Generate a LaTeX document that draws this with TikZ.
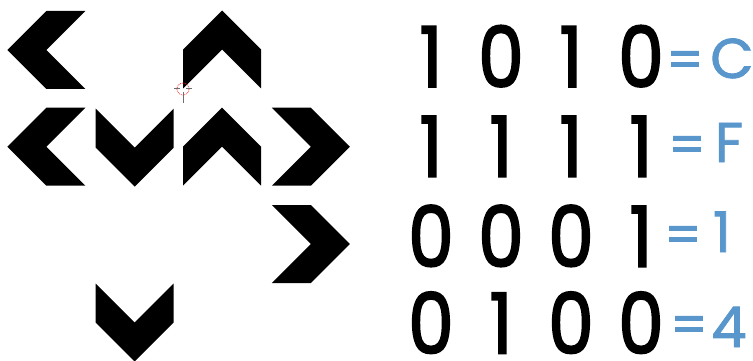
\documentclass[tikz,border=0pt]{standalone}
\usepackage{fontspec}
\newfontfamily\digitfont{Poppins}[FakeBold=2.2, FakeStretch=0.86]
\newfontfamily\handfont{Poppins}[FakeBold=1.5]
\definecolor{handblue}{RGB}{88,150,204}
\definecolor{cursgray}{RGB}{110,110,110}
\tikzset{
  chev/.pic={\fill[black] (-39,0) -- (0,-39) -- (39,-39) -- (0,0) -- (39,39) -- (0,39) -- cycle;},
  digit/.style={anchor=base, inner sep=0pt, font=\digitfont\fontsize{84}{84}\selectfont},
  eqsign/.style={anchor=base, inner sep=0pt, text=handblue, font=\handfont\fontsize{52}{52}\selectfont},
  hand/.style={anchor=base, inner sep=0pt, text=handblue, font=\handfont\fontsize{56}{56}\selectfont},
}
\begin{document}
\begin{tikzpicture}[x=1pt,y=-1pt]
\useasboundingbox (0,0) rectangle (753,361);
% chevrons
\pic at (46.3,50) {chev};
\pic[rotate=-90] at (222,49.5) {chev};
\pic at (46.3,146.7) {chev};
\pic[rotate=90] at (134.7,147.7) {chev};
\pic[rotate=-90] at (222,146.7) {chev};
\pic[rotate=180] at (310.8,146.7) {chev};
\pic[rotate=180] at (310.8,244) {chev};
\pic[rotate=90] at (134.7,322.5) {chev};
% cursor
\draw[red!80, densely dotted, line width=0.8pt] (183,89) circle (6);
\draw[cursgray, line width=1pt] (174,89) -- (180,89) (186,89) -- (192,89) (183,92) -- (183,103);
% digits
\node[digit] (r1a) at (431,87) {1};
\node[digit] (r1b) at (501,87) {0};
\node[digit] (r1c) at (571,87) {1};
\node[digit] (r1d) at (641,87) {0};
\node[digit] (r2a) at (431,176.7) {1};
\node[digit] (r2b) at (501,176.7) {1};
\node[digit] (r2c) at (571,176.7) {1};
\node[digit] (r2d) at (641,176.7) {1};
\node[digit] (r3a) at (431,266.7) {0};
\node[digit] (r3b) at (501,266.7) {0};
\node[digit] (r3c) at (571,266.7) {0};
\node[digit] (r3d) at (641,266.7) {1};
\node[digit] (r4a) at (431,353.5) {0};
\node[digit] (r4b) at (501,353.5) {1};
\node[digit] (r4c) at (571,353.5) {0};
\node[digit] (r4d) at (641,353.5) {0};
% hand-written results
\node[eqsign] (e1) at (685,78) {=};
\node[hand] (v1) at (732,78) {C};
\node[eqsign] (e2) at (687,163) {=};
\node[hand] (v2) at (729,162) {F};
\node[eqsign] (e3) at (683,253) {=};
\node[hand] (v3) at (722,252) {1};
\node[eqsign] (e4) at (689,343) {=};
\node[hand] (v4) at (729,347) {4};
\end{tikzpicture}
\end{document}
